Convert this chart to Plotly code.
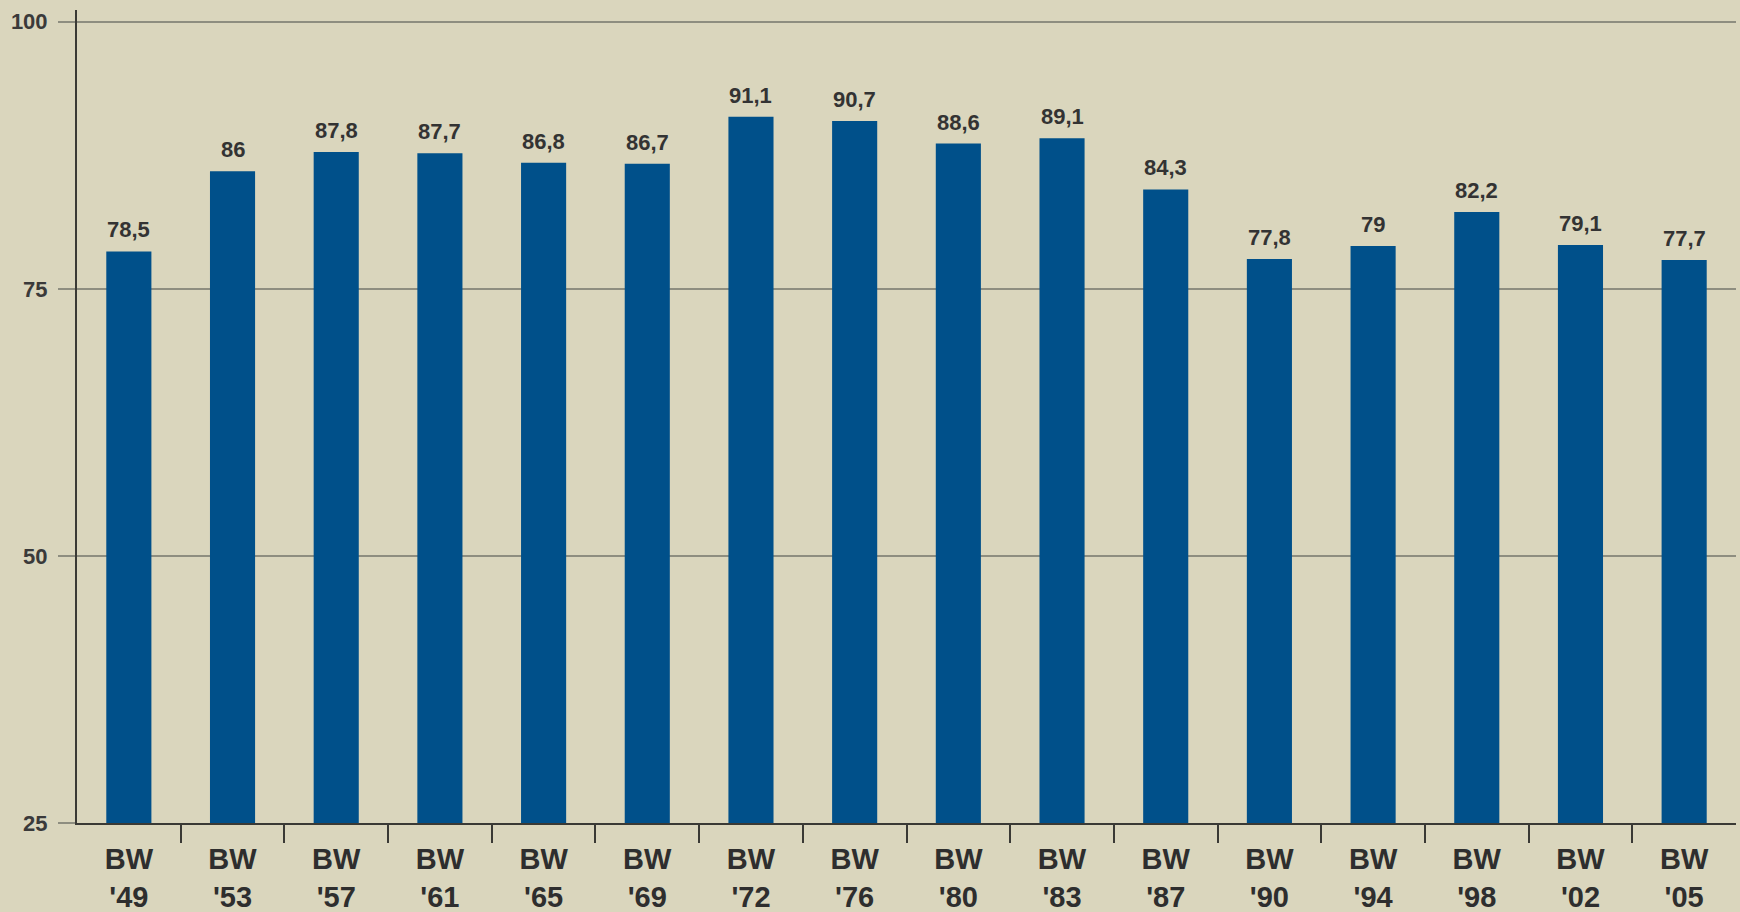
import plotly.graph_objects as go

categories = ["'49", "'53", "'57", "'61", "'65", "'69", "'72", "'76",
              "'80", "'83", "'87", "'90", "'94", "'98", "'02", "'05"]
prefix = "BW"
values = [78.5, 86, 87.8, 87.7, 86.8, 86.7, 91.1, 90.7,
          88.6, 89.1, 84.3, 77.8, 79, 82.2, 79.1, 77.7]
y_ticks = [25, 50, 75, 100]

labels = [f"{prefix}<br>{c}" for c in categories]
value_text = [f"{v:g}".replace(".", ",") for v in values]

BG = "#DAD6BD"
BAR = "#00508A"
GRID = "#8E8E80"
AXIS = "#3A3A35"
TXT = "#2E2E2E"
FONT = "Liberation Sans, Arial, sans-serif"

fig = go.Figure()
fig.add_trace(go.Bar(
    x=labels, y=values, marker=dict(color=BAR, line=dict(width=0)),
    hoverinfo="skip", xaxis="x", yaxis="y",
))
# helper invisible trace for boundary tick axis
fig.add_trace(go.Scatter(x=[-0.5, 15.5], y=[None, None], xaxis="x2", yaxis="y",
                         mode="markers", showlegend=False, hoverinfo="skip"))

for lab, v, t in zip(labels, values, value_text):
    fig.add_annotation(
        x=lab, y=v, xref="x", yref="y", text=t, showarrow=False,
        yanchor="bottom", yshift=7,
        font=dict(family=FONT, size=22, color="#333333", weight="bold"),
    )

fig.update_layout(
    width=1740, height=912,
    paper_bgcolor=BG, plot_bgcolor=BG,
    margin=dict(l=77, r=4, t=10, b=89, autoexpand=False),
    bargap=0.565,
    showlegend=False,
    xaxis=dict(
        type="category", range=[-0.5, 15.5], automargin=False,
        showline=True, linecolor=AXIS, linewidth=2,
        ticks="", showgrid=False, ticklabelstandoff=9,
        tickfont=dict(family=FONT, size=29, color=TXT, weight="bold"),
    ),
    xaxis2=dict(
        overlaying="x", anchor="y", side="bottom", type="linear",
        range=[-0.5, 15.5], automargin=False,
        tickmode="array", tickvals=[i + 0.5 for i in range(len(categories) - 1)],
        showticklabels=False, ticks="outside", ticklen=19, tickwidth=2, tickcolor=AXIS,
        showgrid=False, showline=False, zeroline=False,
    ),
    yaxis=dict(
        range=[25, 101.1], tickmode="array", tickvals=y_ticks, automargin=False,
        showline=True, linecolor=AXIS, linewidth=2,
        showgrid=True, gridcolor=GRID, gridwidth=2,
        ticks="outside", ticklen=17, tickwidth=2, tickcolor=GRID,
        zeroline=False, ticklabelstandoff=6,
        tickfont=dict(family=FONT, size=22, color="#3A3A3A", weight="bold"),
    ),
)

fig.write_html(
    "out.html",
    config={"displayModeBar": False},
    post_script="document.body.style.margin='0';document.body.style.overflow='hidden';"
                "document.body.style.background='" + BG + "';",
)
